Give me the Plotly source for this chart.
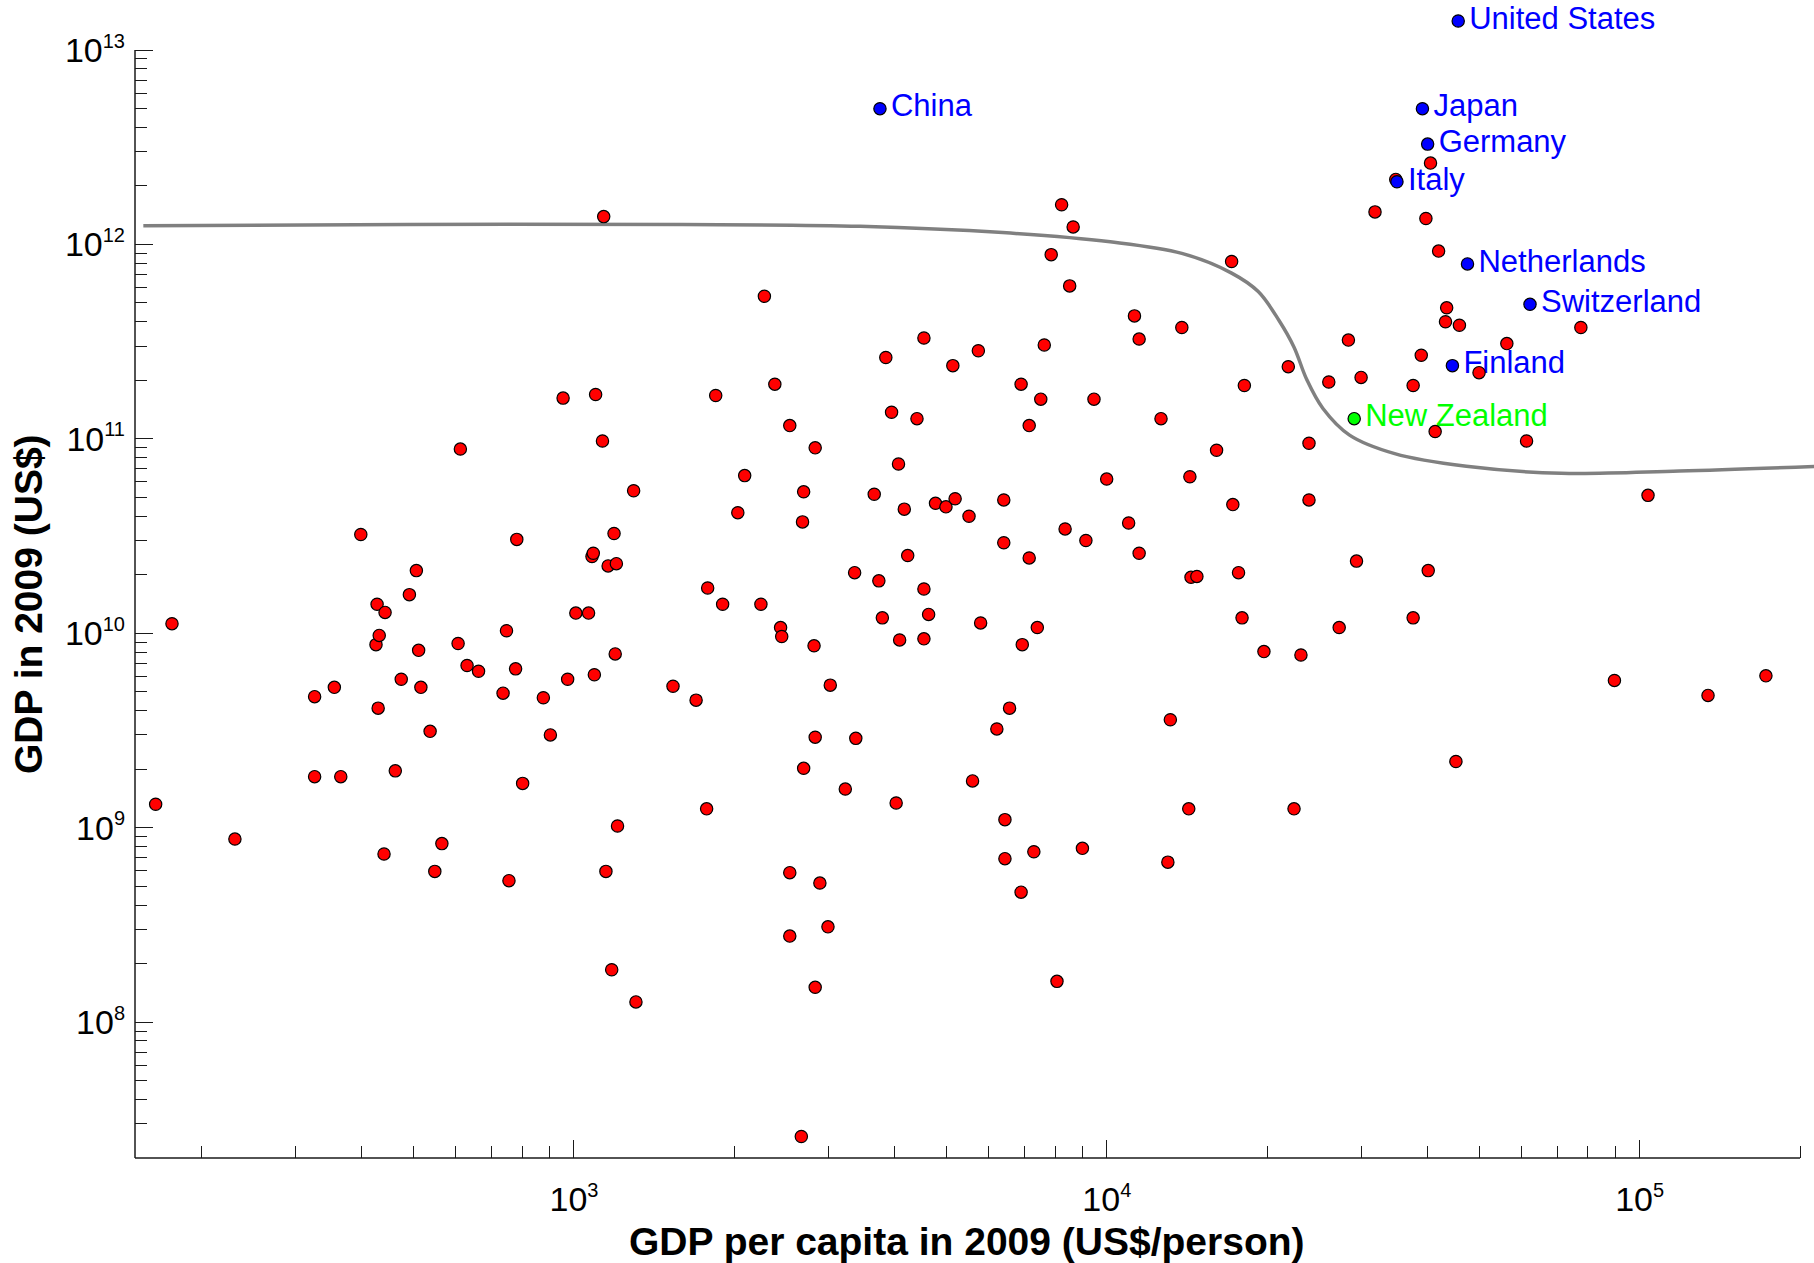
import math
import plotly.graph_objects as go

# ---- 2009 country data: GDP per capita (US$/person) and total GDP (US$) ----
gdp_per_capita = [
    164, 176, 231, 326, 326, 355, 365, 398, 425, 427, 429, 431, 440, 442, 462, 474,
    491, 506, 511, 516, 537, 548, 565, 606, 612, 630, 662, 736, 747, 755, 777, 781,
    801, 876, 903, 954, 973, 1008, 1065, 1081, 1087, 1092, 1098, 1131, 1137, 1148,
    1159, 1201, 1177, 1189, 1195, 1207, 1294, 1307, 1534, 1695, 1774, 1782, 1845,
    1901, 2030, 2091, 2243, 2277, 2382, 2442, 2454, 2541, 2541, 2541, 2671, 2685,
    2698, 2698, 2822, 2836, 2836, 2836, 2894, 2997, 3027, 3230, 3380, 3363, 3660,
    3734, 3791, 3848, 3945, 4024, 4065, 4085, 4168, 4230, 4403, 4537, 4537, 4537,
    4630, 4770, 4990, 5141, 5192, 5513, 5598, 5740, 5797, 6218, 6407, 6407, 6439,
    6439, 6569, 6905, 6905, 6940, 7151, 7151, 7296, 7406, 7518, 7632, 7864, 8063,
    8226, 8351, 8518, 8647, 9000, 9136, 9461, 9995, 10990, 11270, 11500, 11500,
    12640, 13020, 13160, 13830, 14250, 14320, 14390, 14760, 16070, 17150, 17240,
    17670, 17940, 18120, 19720, 21910, 22460, 23140, 23960, 23960, 26100, 27300,
    28410, 29420, 30010, 31870, 34860, 37580, 37580, 38920, 39710, 40110, 40510,
    41330, 41950, 43220, 43440, 45210, 45900, 49960, 56340, 61350, 77580, 89690,
    103700, 134400, 172600,
]
gdp_total = [
    1.32e9, 1.12e10, 8.74e8, 4.72e9, 1.83e9, 5.27e9, 1.83e9, 3.22e10, 8.74e9, 1.41e10,
    4.12e9, 9.75e9, 7.32e8, 1.28e10, 1.96e9, 5.80e9, 1.58e10, 2.10e10, 8.17e9, 5.27e9,
    3.13e9, 5.96e8, 8.28e8, 8.86e9, 8.86e10, 6.83e9, 6.38e9, 4.92e9, 1.03e10, 5.34e8,
    6.56e9, 3.04e10, 1.69e9, 4.66e9, 3.00e9, 1.62e11, 5.80e9, 1.27e10, 1.27e10, 2.48e10,
    2.58e10, 6.12e9, 1.69e11, 9.75e10, 1.39e12, 5.96e8, 2.22e10, 2.28e10, 1.86e8,
    3.26e10, 7.83e9, 1.02e9, 5.41e10, 1.27e8, 5.34e9, 4.53e9, 1.25e9, 1.71e10,
    1.67e11, 1.41e10, 4.17e10, 6.47e10, 1.41e10, 5.41e11, 1.91e11, 1.07e10, 9.62e9,
    1.17e11, 2.77e8, 5.87e8, 2.58e7, 3.74e10, 5.34e10, 2.02e9, 8.62e9, 1.51e8, 2.92e9,
    8.99e10, 5.19e8, 3.09e8, 5.41e9, 1.58e9, 2.88e9, 2.05e10, 5.19e10, 1.86e10,
    1.20e10, 2.62e11, 1.37e11, 1.34e9, 7.42e10, 9.24e9, 4.35e10, 2.51e10, 1.27e11,
    3.30e11, 1.69e10, 9.36e9, 1.25e10, 4.66e10, 4.47e10, 2.38e11, 4.92e10, 4.00e10,
    1.74e9, 2.84e11, 1.13e10, 3.22e9, 4.85e10, 2.92e10, 1.10e9, 6.93e8, 4.12e9,
    1.91e11, 4.66e8, 8.74e9, 1.17e11, 2.44e10, 7.52e8, 1.07e10, 1.60e11, 3.04e11,
    8.86e11, 1.62e8, 1.60e12, 3.44e10, 6.12e11, 1.23e12, 7.83e8, 3.00e10, 1.60e11,
    6.21e10, 3.69e10, 4.29e11, 3.26e11, 2.58e10, 1.27e11, 6.65e8, 3.59e9, 3.74e11,
    1.25e9, 6.38e10, 1.94e10, 1.96e10, 8.74e10, 8.17e11, 4.59e10, 2.05e10, 1.20e10,
    1.88e11, 8.05e9, 2.35e11, 1.25e9, 7.73e9, 9.49e10, 4.85e10, 1.96e11, 1.07e10,
    3.22e11, 2.35e10, 2.07e11, 1.47e12, 2.16e12, 1.20e10, 1.88e11, 2.69e11, 1.36e12,
    2.10e10, 2.62e12, 1.09e11, 9.24e11, 4.00e11, 4.72e11, 2.19e9, 3.84e11, 2.19e11,
    3.09e11, 9.75e10, 3.74e11, 5.72e9, 5.12e10, 4.79e9, 6.04e9,
]

# Named countries
named_countries = ["United States", "China", "Japan", "Germany", "Italy",
                   "Netherlands", "Switzerland", "Finland", "New Zealand"]
named_per_capita = [45660, 3752, 39120, 40010, 35040, 47530, 62270, 44530, 29130]
named_gdp = [1.41e13, 4.99e12, 4.99e12, 3.28e12, 2.10e12, 7.94e11, 4.92e11, 2.38e11, 1.27e11]
named_colors = ["#0000FF"] * 8 + ["#00FF00"]

# Boundary curve
boundary_per_capita = [155.5, 486, 1597, 3447, 6375, 10150, 13830, 17150, 19240, 21050,
                       22460, 23730, 25450, 28550, 34700, 47300, 71260, 118700, 216100]
boundary_gdp = [1.249e12, 1.266e12, 1.266e12, 1.24e12, 1.15e12, 1.031e12, 8.99e11,
                7.12e11, 5.72e11, 4.06e11, 2.96e11, 2.017e11, 1.432e11, 1.045e11,
                8.39e10, 7.22e10, 6.65e10, 6.83e10, 7.22e10]

# Axis limits, tick labels and titles
x_limits = [150, 2e5]
y_limits = [2e7, 1e13]
x_major = [1e3, 1e4, 1e5]
x_exponents = ["3", "4", "5"]
y_major = [1e8, 1e9, 1e10, 1e11, 1e12, 1e13]
y_exponents = ["8", "9", "10", "11", "12", "13"]
x_title = "GDP per capita in 2009 (US$/person)"
y_title = "GDP in 2009 (US$)"

W, H = 1814, 1263
M_L, M_B = 135, 105
AXIS_RIGHT_PX = 1800          # where the drawn x axis ends
AXIS_TOP_PX = 50              # where the drawn y axis ends
FONT = "Liberation Sans, Arial, sans-serif"
AX_COLOR = "#1a1a1a"


def power_label(exp):
    return "10<sup><span style='font-size:20px'>%s</span></sup>" % exp


def minor_ticks(lo, hi):
    vals = []
    for e in range(int(math.floor(math.log10(lo))), int(math.ceil(math.log10(hi))) + 1):
        for m in range(2, 10):
            v = m * 10 ** e
            if lo < v <= hi:
                vals.append(v)
    return vals


# The plotting area reaches the right and top page edges, so the curve and the
# outlying country can sit past the ends of the drawn axes.
lx0, lx1 = math.log10(x_limits[0]), math.log10(x_limits[1])
x_px_dec = (AXIS_RIGHT_PX - M_L) / (lx1 - lx0)
lx_end = lx0 + (W - M_L) / x_px_dec
x_frac = (lx1 - lx0) / (lx_end - lx0)

ly0, ly1 = math.log10(y_limits[0]), math.log10(y_limits[1])
y_px_dec = (H - M_B - AXIS_TOP_PX) / (ly1 - ly0)
ly_end = ly1 + AXIS_TOP_PX / y_px_dec
y_frac = (ly1 - ly0) / (ly_end - ly0)

fig = go.Figure()

fig.add_trace(go.Scatter(
    x=boundary_per_capita, y=boundary_gdp, mode="lines",
    line=dict(color="#808080", width=3.5, shape="spline", smoothing=1.0),
    hoverinfo="skip",
))

# country names (drawn beneath the dots)
fig.add_trace(go.Scatter(
    x=named_per_capita, y=named_gdp, mode="markers+text",
    text=named_countries, textposition="middle right",
    textfont=dict(family=FONT, size=31, color=named_colors),
    marker=dict(size=16, color="rgba(0,0,0,0)", line=dict(width=0)),
    cliponaxis=False, hoverinfo="skip",
))

fig.add_trace(go.Scatter(
    x=gdp_per_capita, y=gdp_total, mode="markers",
    marker=dict(size=12.3, color="#FF0000", line=dict(color="black", width=1.2)),
))

fig.add_trace(go.Scatter(
    x=named_per_capita, y=named_gdp, mode="markers",
    marker=dict(size=12.3, color=named_colors, line=dict(color="black", width=1.2)),
    cliponaxis=False,
))

tick_font = dict(family=FONT, size=34, color="black")
title_font = dict(family=FONT, size=39, color="black")

fig.update_layout(
    width=W, height=H,
    margin=dict(l=M_L, r=0, t=0, b=M_B),
    paper_bgcolor="white", plot_bgcolor="white",
    showlegend=False,
    xaxis=dict(
        type="log", range=[lx0, lx_end], autorange=False,
        tickmode="array", tickvals=x_major, ticktext=[power_label(e) for e in x_exponents],
        ticks="inside", ticklen=18, tickwidth=1.3, tickcolor=AX_COLOR,
        minor=dict(tickmode="array", tickvals=minor_ticks(*x_limits),
                   ticks="inside", ticklen=12, tickwidth=1.3, tickcolor=AX_COLOR),
        showline=False, showgrid=False, zeroline=False,
        tickfont=tick_font, ticklabelstandoff=18,
        automargin=False,
    ),
    yaxis=dict(
        type="log", range=[ly0, ly_end], autorange=False,
        tickmode="array", tickvals=y_major, ticktext=[power_label(e) for e in y_exponents],
        ticks="inside", ticklen=18, tickwidth=1.3, tickcolor=AX_COLOR,
        minor=dict(tickmode="array", tickvals=minor_ticks(*y_limits),
                   ticks="inside", ticklen=12, tickwidth=1.3, tickcolor=AX_COLOR),
        showline=False, showgrid=False, zeroline=False,
        tickfont=tick_font, ticklabelstandoff=9,
        automargin=False,
    ),
    shapes=[
        dict(type="line", xref="paper", yref="paper", x0=0, x1=x_frac, y0=0, y1=0,
             line=dict(color=AX_COLOR, width=1.5), layer="above"),
        dict(type="line", xref="paper", yref="paper", x0=0, x1=0, y0=0, y1=y_frac,
             line=dict(color=AX_COLOR, width=1.5), layer="above"),
    ],
    # axis titles, centred on the drawn axes
    annotations=[
        dict(text="<b>%s</b>" % x_title, font=title_font, showarrow=False,
             xref="paper", yref="paper", x=x_frac / 2, y=0,
             xanchor="center", yanchor="middle", yshift=-83),
        dict(text="<b>%s</b>" % y_title, font=title_font, showarrow=False, textangle=-90,
             xref="paper", yref="paper", x=0, y=y_frac / 2,
             xanchor="center", yanchor="middle", xshift=-(M_L - 28)),
    ],
)

fig.write_html("out.html")
